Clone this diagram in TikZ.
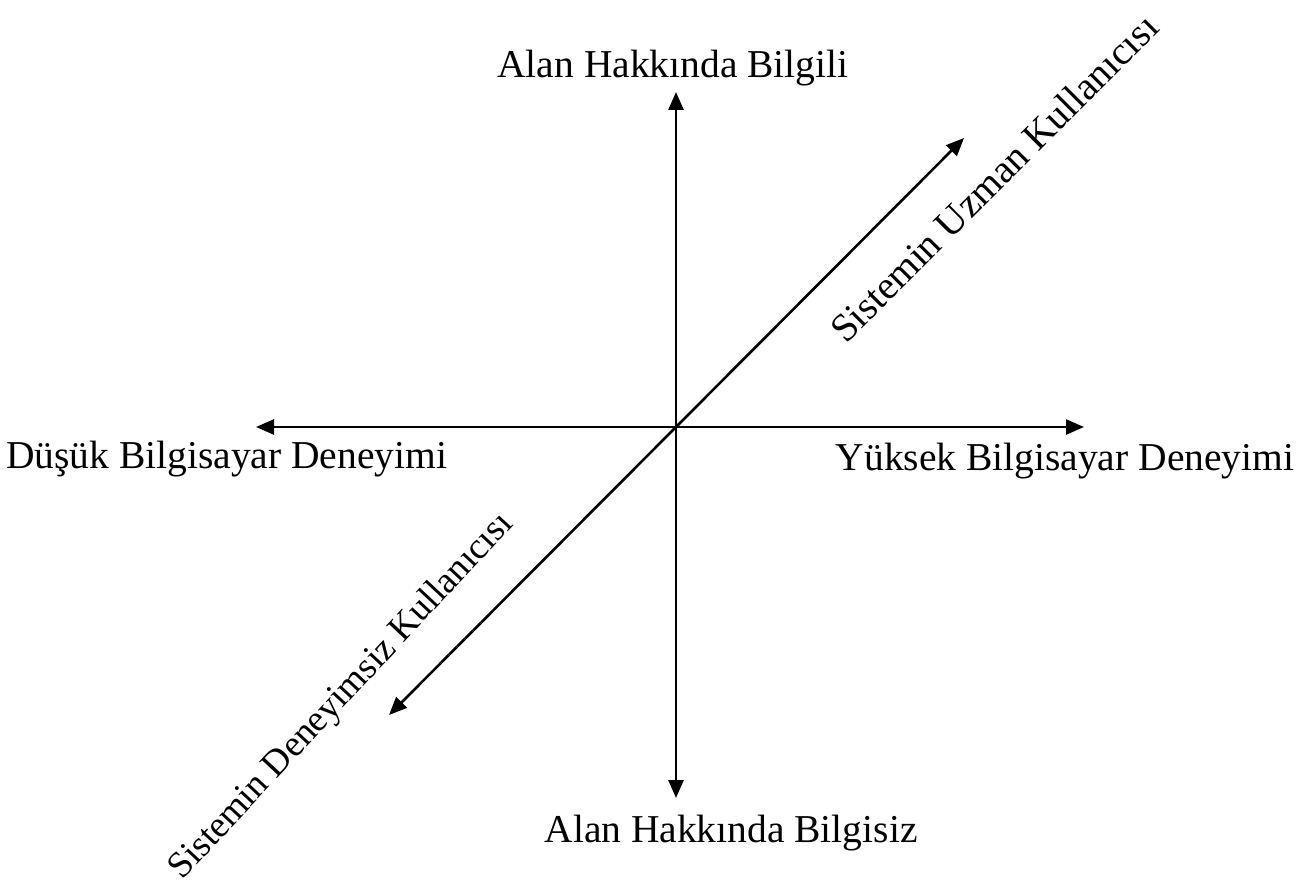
\documentclass[tikz,border=0pt]{standalone}
\usepackage{fontspec}
\setmainfont{Liberation Serif}
\usetikzlibrary{arrows.meta}
\begin{document}
\begin{tikzpicture}[x=1pt,y=-1pt,
  axis/.style={line width=2.6pt,-{Triangle[length=18pt,width=15pt]}},
  lbl/.style={font=\fontsize{39.5}{44}\selectfont,inner sep=0pt}]
\useasboundingbox (0,0) rectangle (1305,880);
\coordinate (o) at (676,427);
\coordinate (top) at (676,92);
\coordinate (bot) at (676,798);
\coordinate (lft) at (256,427);
\coordinate (rgt) at (1084,427);
\coordinate (ur) at (964,138);
\coordinate (dl) at (389,715);
\draw[axis] (o) -- (top);
\draw[axis] (o) -- (bot);
\draw[axis] (o) -- (lft);
\draw[axis] (o) -- (rgt);
\draw[axis] (o) -- (ur);
\draw[axis] (o) -- (dl);
\node[lbl,anchor=base] (t1) at (673,78) {Alan Hakkında Bilgili};
\node[lbl,anchor=base] (t2) at (731,842) {Alan Hakkında Bilgisiz};
\node[lbl,anchor=base west] (t3) at (6,468) {Düşük Bilgisayar Deneyimi};
\node[lbl,anchor=base] (t4) at (1065,470) {Yüksek Bilgisayar Deneyimi};
\node[lbl,rotate=45,anchor=base west] (t5) at (846,345) {Sistemin Uzman Kullanıcısı};
\node[lbl,font=\fontsize{37}{42}\selectfont,rotate=47,anchor=base west] (t6) at (182,881) {Sistemin Deneyimsiz Kullanıcısı};
\end{tikzpicture}
\end{document}
